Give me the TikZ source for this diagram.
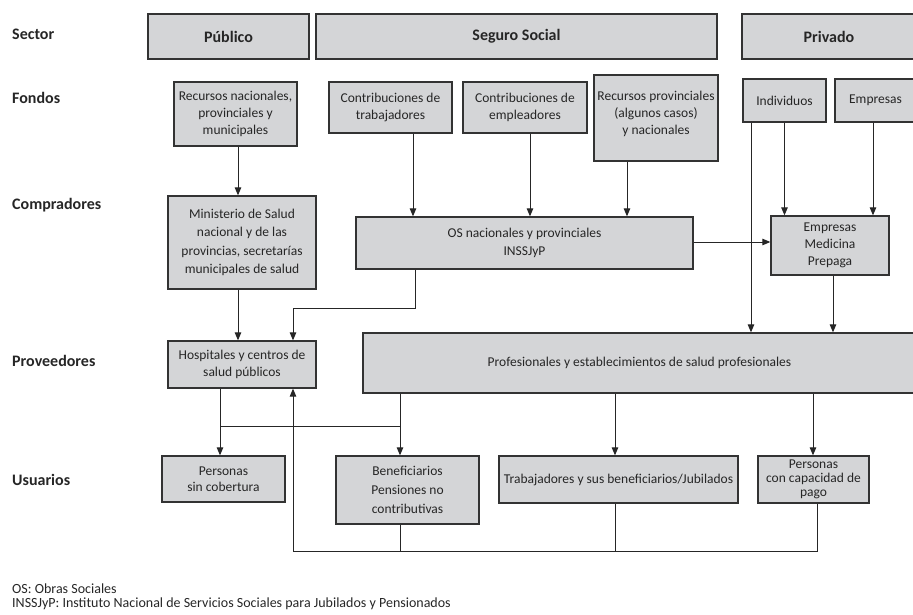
\documentclass[tikz,border=0pt]{standalone}
\usepackage{fontspec}
\setmainfont{Carlito}
\usetikzlibrary{arrows.meta}

\definecolor{boxgray}{RGB}{212,213,215}
\tikzset{
  caja/.style={draw=black!80, fill=boxgray, line width=1.3pt, align=center, inner sep=1pt,
    text=black!85, font=\fontsize{13.5}{17}\selectfont},
  fila/.style={anchor=west, inner sep=0pt, text=black!85, font=\fontsize{16}{18}\selectfont\bfseries},
  flecha/.style={draw=black!85, line width=1pt, -{Triangle[length=8pt,width=6.5pt]}},
  linea/.style={draw=black!85, line width=1pt}
}

\begin{document}
\begin{tikzpicture}[x=1pt,y=-1pt]
\useasboundingbox (0,0) rectangle (913,614);

%ROW LABELS
\node[fila] (lsector) at (12,34) {Sector};
\node[fila] (lfondos) at (12,98) {Fondos};
\node[fila] (lcompr) at (12,205) {Compradores};
\node[fila] (lprov) at (12,361) {Proveedores};
\node[fila] (lusu) at (12,480) {Usuarios};

%SECTOR
\node[caja, minimum width=161, minimum height=45, font=\fontsize{16}{18}\selectfont\bfseries] (pub) at (228.5,36.5) {Público};
\node[caja, minimum width=401, minimum height=45, font=\fontsize{16}{18}\selectfont\bfseries] (seg) at (516.5,36.5) {Seguro Social};
\node[caja, minimum width=174, minimum height=45, font=\fontsize{16}{18}\selectfont\bfseries] (priv) at (829,36.5) {Privado};

%FONDOS
\node[caja, minimum width=123, minimum height=64] (recnac) at (235.5,114) {Recursos nacionales,\\provinciales y\\municipales};
\node[caja, minimum width=123, minimum height=51] (ctrab) at (390.5,107.5) {Contribuciones de\\trabajadores};
\node[caja, minimum width=124, minimum height=51] (cemp) at (525,107.5) {Contribuciones de\\empleadores};
\node[caja, minimum width=124, minimum height=86, font=\fontsize{13.5}{17}\selectfont] (recprov) at (656,118) {Recursos provinciales\\(algunos casos)\\y nacionales\\[-7pt]};
\node[caja, minimum width=83, minimum height=43] (indiv) at (784.5,100.5) {Individuos};
\node[caja, minimum width=81, minimum height=43] (empr) at (875.5,100.5) {Empresas};

%COMPRADORES
\node[caja, minimum width=148, minimum height=93, font=\fontsize{13.5}{18.5}\selectfont] (minis) at (242,242.5) {Ministerio de Salud\\nacional y de las\\provincias, secretarías\\municipales de salud};
\node[caja, minimum width=337, minimum height=52, font=\fontsize{13.5}{18}\selectfont] (osnac) at (524.5,243) {OS nacionales y provinciales\\INSSJyP};
\node[caja, minimum width=118, minimum height=59] (empmed) at (830,245.5) {Empresas\\Medicina\\Prepaga};

%PROVEEDORES
\node[caja, minimum width=148, minimum height=47] (hosp) at (242,364.5) {Hospitales y centros de\\salud públicos};
\node[caja, minimum width=553, minimum height=60] (prof) at (639.5,363) {Profesionales y establecimientos de salud profesionales};

%USUARIOS
\node[caja, minimum width=123, minimum height=46, font=\fontsize{13.5}{16}\selectfont] (pers) at (223.5,479) {Personas\\sin cobertura};
\node[caja, minimum width=143, minimum height=68, font=\fontsize{13.5}{19}\selectfont] (benef) at (407.5,490) {Beneficiarios\\Pensiones no\\contributivas};
\node[caja, minimum width=239, minimum height=47] (trab) at (618.5,479.5) {Trabajadores y sus beneficiarios/Jubilados};
\node[caja, minimum width=111, minimum height=47, font=\fontsize{13.5}{14}\selectfont] (pcap) at (813.5,479.5) {Personas\\con capacidad de\\pago};

%FONDOS -> COMPRADORES
\draw[flecha] ([xshift=2.5]recnac.south) -- ([xshift=2.5]recnac.south |- minis.north);
\draw[flecha] ([xshift=22.5]ctrab.south) -- ([xshift=22.5]ctrab.south |- osnac.north);
\draw[flecha] ([xshift=5]cemp.south) -- ([xshift=5]cemp.south |- osnac.north);
\draw[flecha] ([xshift=-29]recprov.south) -- ([xshift=-29]recprov.south |- osnac.north);
\draw[flecha] ([xshift=-33.5]indiv.south) -- ([xshift=-33.5]indiv.south |- prof.north);
\draw[flecha] (indiv.south) -- (indiv.south |- empmed.north);
\draw[flecha] ([xshift=-2.5]empr.south) -- ([xshift=-2.5]empr.south |- empmed.north);
\draw[flecha] ([yshift=1]osnac.east) -- ([yshift=1]osnac.east -| empmed.west);

%COMPRADORES -> PROVEEDORES
\draw[flecha] ([xshift=-4]minis.south) -- ([xshift=-4]minis.south |- hosp.north);
\draw[flecha] ([xshift=-109.5]osnac.south) -- ++(0,39) -| ([xshift=51]hosp.north);
\draw[flecha] ([xshift=3]empmed.south) -- ([xshift=3]empmed.south |- prof.north);

%PROVEEDORES -> USUARIOS
\draw[flecha] ([xshift=-22]hosp.south) -- ([xshift=-22]hosp.south |- pers.north);
\draw[flecha] ([xshift=-239.5]prof.south) -- ([xshift=-239.5]prof.south |- benef.north);
\coordinate (jl) at (220,426);
\coordinate (jr) at (400,426);
\draw[linea] (jl) -- (jr);
\draw[flecha] ([xshift=-24.5]prof.south) -- ([xshift=-24.5]prof.south |- trab.north);
\draw[flecha] ([xshift=173.5]prof.south) -- ([xshift=173.5]prof.south |- pcap.north);

%RETURN LINE
\draw[flecha] ([xshift=3.5]pcap.south) -- ++(0,48) -| ([xshift=51]hosp.south);
\draw[linea] ([xshift=-7.5]benef.south) -- ++(0,27);
\draw[linea] ([xshift=-3.5]trab.south) -- ++(0,48);

%NOTES
\node[anchor=west, inner sep=0pt, text=black!85, font=\fontsize{14}{15}\selectfont] (n1) at (12,589) {OS: Obras Sociales};
\node[anchor=west, inner sep=0pt, text=black!85, font=\fontsize{14}{15}\selectfont] (n2) at (12,604) {INSSJyP: Instituto Nacional de Servicios Sociales para Jubilados y Pensionados};

\end{tikzpicture}
\end{document}
